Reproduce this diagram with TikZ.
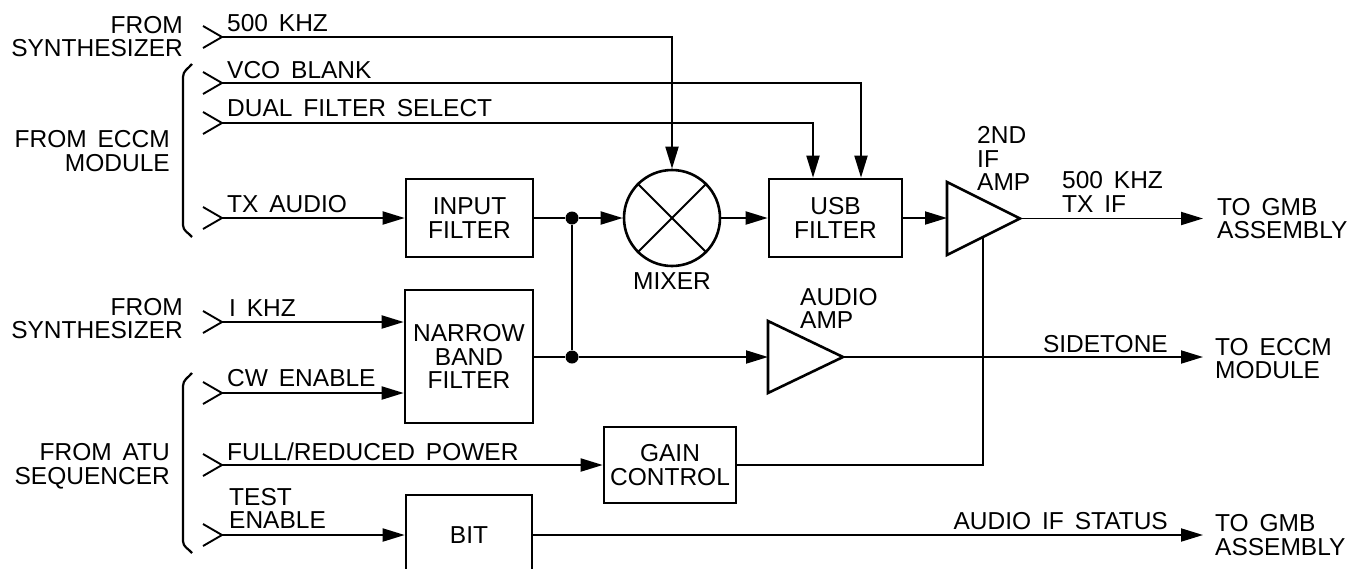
\documentclass[tikz,border=0pt]{standalone}
\usepackage{fontspec}
\setmainfont{Liberation Sans}[WordSpace=1.6]
\usetikzlibrary{arrows.meta,calc}
\tikzset{
  sig/.style={line width=1.9pt},
  arr/.style={sig,-{Triangle[length=22pt,width=13pt]}},
  blk/.style={draw,line width=2.6pt,align=center,inner sep=0pt,font=\fontsize{24.5}{23.5}\selectfont},
  lbl/.style={inner sep=0pt,font=\fontsize{24.5}{23.5}\selectfont},
  chev/.style={line width=1.9pt},
  dotj/.style={circle,fill,inner sep=0pt,minimum size=13pt},
}
\newcommand{\chevron}[2]{\draw[chev] (203,#2-11) -- (222,#2) -- (203,#2+11); \coordinate (#1) at (222,#2);}
\begin{document}
\begin{tikzpicture}[x=1pt,y=-1pt]
\useasboundingbox (0,0) rectangle (1351,568);
\clip (0,0) rectangle (1351,568);

% input chevrons
\chevron{in1}{37}
\chevron{in2}{83}
\chevron{in3}{123}
\chevron{in4}{218}
\chevron{in5}{322}
\chevron{in6}{393}
\chevron{in7}{465}
\chevron{in8}{535}

% braces
\draw[line width=2.2pt] (192,64) to[out=-130,in=90] (183,77) -- (183,225) to[out=-90,in=130] (192,237);
\draw[line width=2.2pt] (192,373) to[out=-130,in=90] (183,386) -- (183,541) to[out=-90,in=130] (192,553);

% source labels
\node[lbl,align=right,anchor=east] (srcA) at (183,36.5) {FROM\\SYNTHESIZER};
\node[lbl,align=right,anchor=east] (srcB) at (170,151) {FROM ECCM\\MODULE};
\node[lbl,align=right,anchor=east] (srcC) at (183,318.5) {FROM\\SYNTHESIZER};
\node[lbl,align=right,anchor=east] (srcD) at (170,466.5) {FROM ATU\\SEQUENCER};

% signal labels
\node[lbl,anchor=west] (l1) at (227,23) {500 KHZ};
\node[lbl,anchor=west] (l2) at (227,70) {VCO BLANK};
\node[lbl,anchor=west] (l3) at (227,108) {DUAL FILTER SELECT};
\node[lbl,anchor=west] (l4) at (227,204) {TX AUDIO};
\node[lbl,anchor=west] (l5) at (229,308) {I KHZ};
\node[lbl,anchor=west] (l6) at (227,378) {CW ENABLE};
\node[lbl,anchor=west] (l7) at (227,452) {FULL/REDUCED POWER};
\node[lbl,anchor=west,align=left] (l8) at (229,508.5) {TEST\\ENABLE};

% blocks
\node[blk,minimum width=127pt,minimum height=78pt] (infilt) at (469.5,218) {INPUT\\FILTER};
\node[blk,minimum width=133pt,minimum height=78pt] (usb) at (835.5,218) {USB\\FILTER};
\node[blk,minimum width=128pt,minimum height=133pt] (narrow) at (469,356.5) {NARROW\\BAND\\FILTER};
\node[blk,minimum width=132pt,minimum height=76pt] (gain) at (670,465) {GAIN\\CONTROL};
\node[blk,minimum width=126pt,minimum height=80pt] (bit) at (469,535) {BIT};

% mixer
\node[draw,circle,line width=2.6pt,minimum size=96pt,inner sep=0pt] (mixer) at (672,218) {};
\draw[sig] (mixer.45) -- (mixer.225);
\draw[sig] (mixer.135) -- (mixer.315);
\node[lbl] (mixlbl) at (672,281) {MIXER};

% amplifiers
\draw[line width=2.6pt,line join=miter] (947,182) -- (947,255) -- (1020,218.5) -- cycle;
\coordinate (amp2in) at (947,218);
\coordinate (amp2out) at (1020,218.5);
\coordinate (amp2bot) at (983,237);
\node[lbl,anchor=west,align=left] (amp2lbl) at (977,158.5) {2ND\\IF\\AMP};

\draw[line width=2.6pt,line join=miter] (768,321) -- (768,393) -- (843,357) -- cycle;
\coordinate (amp1in) at (768,357);
\coordinate (amp1out) at (843,357);
\node[lbl,anchor=west,align=left] (amp1lbl) at (800,308.5) {AUDIO\\AMP};

% junctions
\node[dotj] (j1) at (572,218) {};
\node[dotj] (j2) at (572,357) {};

% outputs
\coordinate (out1) at (1203,218.5);
\coordinate (out2) at (1203,357);
\coordinate (out3) at (1203,535);
\node[lbl,anchor=west,align=left] (o1lbl) at (1062,192) {500 KHZ\\TX IF};
\node[lbl,anchor=west,align=left] (o1dst) at (1217,218.5) {TO GMB\\ASSEMBLY};
\node[lbl,anchor=east] (o2lbl) at (1168,344) {SIDETONE};
\node[lbl,anchor=west,align=left] (o2dst) at (1215,358.5) {TO ECCM\\MODULE};
\node[lbl,anchor=east] (o3lbl) at (1168,521) {AUDIO IF STATUS};
\node[lbl,anchor=west,align=left] (o3dst) at (1215,535) {TO GMB\\ASSEMBLY};

% connectors
\draw[arr] (in1) -| (mixer.north);
\draw[arr] (in2) -| ([xshift=25.5pt]usb.north);
\draw[arr] (in3) -| ([xshift=-22.5pt]usb.north);
\draw[arr] (in4) -- (in4 -| infilt.west);
\draw[sig] (infilt.east) -- (j1);
\draw[arr] (j1) -- (mixer.west);
\draw[arr] (mixer.east) -- (usb.west);
\draw[arr] (usb.east) -- (amp2in);
\draw[arr] (amp2out) -- (out1);
\draw[arr] (in5) -- (in5 -| narrow.west);
\draw[arr] (in6) -- (in6 -| narrow.west);
\draw[sig] (narrow.east |- j2) -- (j2);
\draw[sig] (j1) -- (j2);
\draw[arr] (j2) -- (amp1in);
\draw[arr] (amp1out) -- (out2);
\draw[arr] (in7) -- (gain.west);
\draw[sig] (gain.east) -| (amp2bot);
\draw[arr] (in8) -- (in8 -| bit.west);
\draw[arr] (bit.east) -- (out3);
\end{tikzpicture}
\end{document}
